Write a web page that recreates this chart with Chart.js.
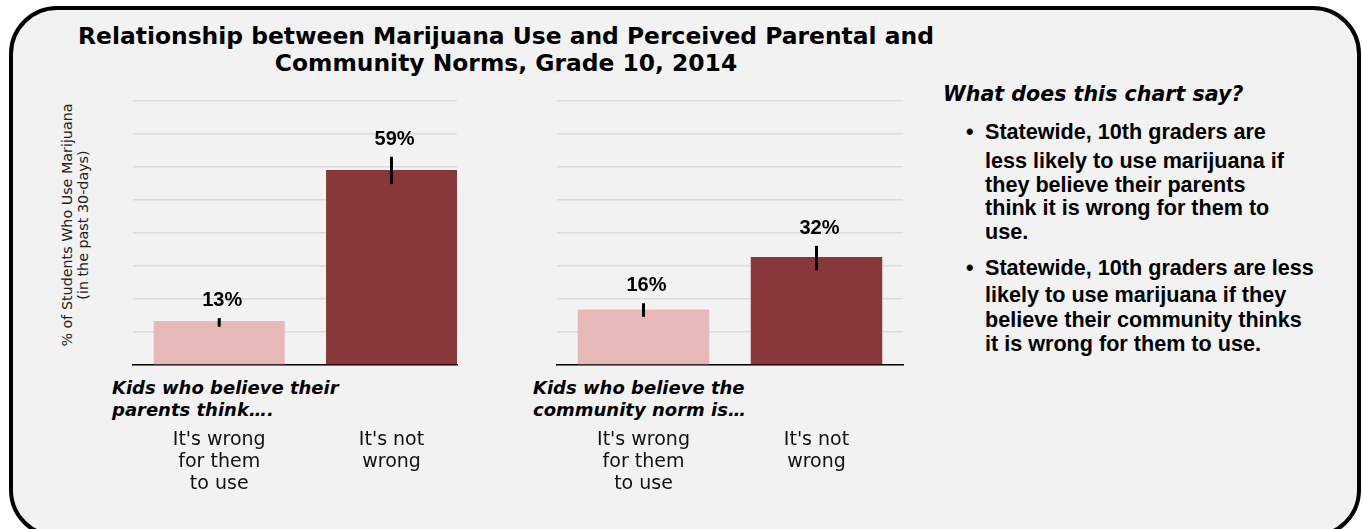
<!DOCTYPE html>
<html>
<head>
<meta charset="utf-8">
<script src="https://cdn.jsdelivr.net/npm/chart.js@4.4.0/dist/chart.umd.min.js"></script>
<style>
  html, body { margin: 0; padding: 0; background: #fff; width: 1363px; height: 529px; overflow: hidden; }
  .frame { position: absolute; left: 9px; top: 6px; width: 1352px; height: 532px; box-sizing: border-box;
           border: 4px solid #000; border-radius: 48px; background: #f2f2f2; }
  .abs { position: absolute; white-space: nowrap; color: #000; }
  #title { left: 0; top: 23px; width: 1012px; text-align: center; font: bold 23.4px/27px "DejaVu Sans"; }
  .sub { font: italic bold 18px/22px "DejaVu Sans"; top: 377px; }
  #ytitle { left: -47px; top: 209px; width: 244px; text-align: center; font: 14.3px/16px "DejaVu Sans"; color: #222;
            transform: rotate(-90deg); }
  #say { left: 943px; top: 82px; font: italic bold 20.6px/24px "DejaVu Sans"; }
  .bul { left: 985px; font: bold 21.6px/24px "Liberation Sans"; }
  .dot { position: absolute; left: -19px; top: 0; }
  .box { position: absolute; width: 400px; height: 430px; top: 80px; }
</style>
</head>
<body>
<div class="frame"></div>
<div class="abs" id="title">Relationship between Marijuana Use and Perceived Parental and<br>Community Norms, Grade 10, 2014</div>
<div class="abs" id="ytitle">% of Students Who Use Marijuana<br>(in the past 30-days)</div>
<div class="abs sub" style="left:112px">Kids who believe their<br>parents think….</div>
<div class="abs sub" style="left:533px">Kids who believe the<br>community norm is…</div>
<div class="abs" id="say">What does this chart say?</div>
<div class="abs bul" style="top:120px"><span class="dot">•</span>Statewide, 10th graders are</div>
<div class="abs bul" style="top:149px;line-height:23.5px">less likely to use marijuana if<br>they believe their parents<br>think it is wrong for them to<br>use.</div>
<div class="abs bul" style="top:256px"><span class="dot">•</span>Statewide, 10th graders are less</div>
<div class="abs bul" style="top:283px;line-height:24.5px">likely to use marijuana if they<br>believe their community thinks<br>it is wrong for them to use.</div>
<div class="box" style="left:100px"><canvas id="parentsChart"></canvas></div>
<div class="box" style="left:520px"><canvas id="communityChart"></canvas></div>
<script>
// categorias (rótulos do eixo x, uma linha por item)
const categories = [["It's wrong", "for them", "to use"], ["It's not", "wrong"]];
const barColors = ['#e6b8b7', '#88383a'];

// pais
const parentsValues = [13.3, 59.1];
const parentsLow = [11.6, 54.8];
const parentsHigh = [14.2, 63.1];

// comunidade
const communityValues = [16.8, 32.7];
const communityLow = [14.6, 28.7];
const communityHigh = [18.7, 36.1];

const yMax = 80;
const yStep = 10;

// barras de erro + rótulo com o percentual
const errorBars = {
    id: 'errorBars',
    afterDatasetsDraw(chart, args, opts) {
        const { ctx } = chart;
        const y = chart.scales.y;
        const meta = chart.getDatasetMeta(0);
        ctx.save();
        ctx.strokeStyle = '#000';
        ctx.lineWidth = 3;
        ctx.fillStyle = '#000';
        ctx.font = 'bold 20px "Liberation Sans"';
        ctx.textAlign = 'center';
        ctx.textBaseline = 'alphabetic';
        meta.data.forEach((bar, i) => {
            const yLo = y.getPixelForValue(opts.low[i]);
            const yHi = y.getPixelForValue(opts.high[i]);
            ctx.beginPath();
            ctx.moveTo(bar.x, yLo);
            ctx.lineTo(bar.x, yHi);
            ctx.stroke();
            ctx.fillText(Math.floor(opts.values[i]) + '%', bar.x + 3, yHi - 12);
        });
        ctx.restore();
    }
};

function makeChart(id, values, low, high, xMax, padLeft, padRight) {
    const ctx = document.getElementById(id).getContext('2d');
    return new Chart(ctx, {
        type: 'bar',
        data: {
            datasets: [{
                data: values.map((v, i) => ({ x: i, y: v })),
                backgroundColor: barColors,
                borderWidth: 0,
                categoryPercentage: 0.95,
                barPercentage: 0.8
            }]
        },
        options: {
            responsive: true,
            maintainAspectRatio: false,
            animation: false,
            layout: { padding: { left: padLeft, right: padRight, top: 21, bottom: 0 } },
            plugins: {
                legend: { display: false },
                tooltip: { enabled: false },
                errorBars: { values: values, low: low, high: high }
            },
            scales: {
                x: {
                    type: 'linear',
                    min: -0.5,
                    max: xMax,
                    offset: false,
                    bounds: 'data',
                    grid: { display: false, drawTicks: false },
                    border: { display: true, color: '#000', width: 1.5 },
                    afterBuildTicks: (axis) => { axis.ticks = categories.map((c, i) => ({ value: i })); },
                    afterFit: (axis) => { axis.height = 145; },
                    ticks: {
                        autoSkip: false,
                        maxRotation: 0,
                        padding: 64,
                        color: '#111',
                        font: { family: 'DejaVu Sans', size: 19, lineHeight: 22 / 19 },
                        callback: (v) => categories[v]
                    }
                },
                y: {
                    min: 0,
                    max: yMax,
                    ticks: { display: false, stepSize: yStep },
                    grid: { color: '#dcdcdc', lineWidth: 1.5, drawTicks: false },
                    border: { display: false },
                    afterFit: (axis) => { axis.width = 0; }
                }
            }
        },
        plugins: [errorBars]
    });
}

makeChart('parentsChart', parentsValues, parentsLow, parentsHigh, 1.38, 33, 43);
makeChart('communityChart', communityValues, communityLow, communityHigh, 1.5, 37, 17);
</script>
</body>
</html>
